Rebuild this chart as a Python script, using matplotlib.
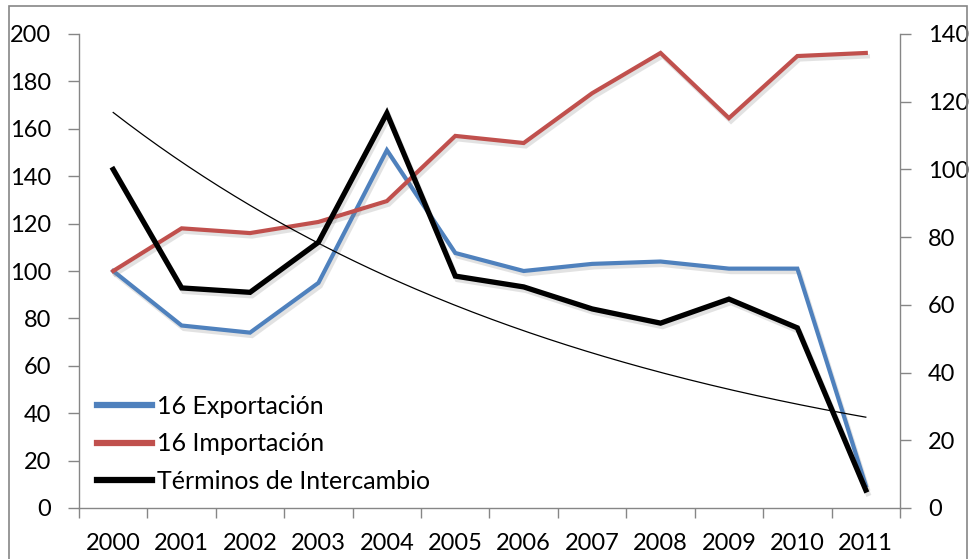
import numpy as np
import matplotlib
matplotlib.use("Agg")
import matplotlib.pyplot as plt
import matplotlib.patheffects as pe
from matplotlib.patches import Rectangle

years = ["2000", "2001", "2002", "2003", "2004", "2005", "2006", "2007", "2008", "2009", "2010", "2011"]
exportacion = [100, 77, 74, 95, 151, 107.6, 100, 103, 104, 101, 101, 9.5]
importacion = [100, 118, 116, 120.7, 129.5, 157, 154, 175, 192, 164.5, 190.7, 192]
terminos = [100, 65, 63.7, 78.5, 116.6, 68.5, 65.3, 58.8, 54.6, 61.7, 53.2, 5.3]
left_ticks = [0, 20, 40, 60, 80, 100, 120, 140, 160, 180, 200]
right_ticks = [0, 20, 40, 60, 80, 100, 120, 140]

plt.rcParams['font.family'] = ['Lato', 'DejaVu Sans']
FS = 17
LFS = 18
W, H = 969, 559
fig = plt.figure(figsize=(W / 100, H / 100), dpi=100)
ax = fig.add_axes([79 / W, 1 - 508 / H, (900 - 79) / W, (508 - 34) / H])
ax2 = ax.twinx()

gray = '#868686'
x = np.arange(len(years))
shadow = [pe.SimpleLineShadow(offset=(1.5, -2.5), shadow_color='#7f7f7f', alpha=0.22), pe.Normal()]

l1, = ax.plot(x, exportacion, color='#4F81BD', lw=3.0, solid_joinstyle='miter',
              path_effects=shadow, label='16 Exportación')
l2, = ax.plot(x, importacion, color='#C0504D', lw=3.0, solid_joinstyle='miter',
              path_effects=shadow, label='16 Importación')
l3, = ax2.plot(x, terminos, color='black', lw=3.8, solid_joinstyle='miter',
               path_effects=shadow, label='Términos de Intercambio')

# exponential trendline of Términos de Intercambio
b, a = np.polyfit(x + 1, np.log(terminos), 1)
xt = np.linspace(0, len(years) - 1, 200)
ax2.plot(xt, np.exp(a + b * (xt + 1)), color='black', lw=0.9, zorder=1)

ax.set_xlim(-0.5, len(years) - 0.5)
ax.set_ylim(0, 200)
ax2.set_ylim(0, 140)
ax.set_yticks(left_ticks)
ax2.set_yticks(right_ticks)

ax.set_xticks(np.arange(-0.5, len(years), 1.0))
ax.set_xticklabels([])
ax.set_xticks(x, minor=True)
ax.set_xticklabels(years, minor=True)
ax.tick_params(axis='x', which='major', length=7, width=1, color=gray, direction='out')
ax.tick_params(axis='x', which='minor', length=0, pad=18, labelsize=FS)
ax.tick_params(axis='y', length=8, width=1, color=gray, direction='out', pad=12, labelsize=FS)
ax2.tick_params(axis='y', length=8, width=1, color=gray, direction='out', pad=12, labelsize=FS)

for s in ['top', 'right']:
    ax.spines[s].set_visible(False)
for s in ['top', 'left', 'bottom']:
    ax2.spines[s].set_visible(False)
for sp in [ax.spines['left'], ax.spines['bottom'], ax2.spines['right']]:
    sp.set_color(gray)
    sp.set_linewidth(1.0)

leg = ax2.legend(handles=[l1, l2, l3], loc='lower left', bbox_to_anchor=(0.022, 0.032),
                 frameon=False, fontsize=LFS, handlelength=2.2, handletextpad=0.2,
                 labelspacing=0.58, borderaxespad=0, borderpad=0)
for h in leg.legend_handles:
    h.set_linewidth(4.5)
    h.set_path_effects([])

fig.patches.append(Rectangle((9 / W, -0.1), (967 - 9) / W, 1.1 - 6 / H + 0.0,
                             transform=fig.transFigure, fill=False, edgecolor=gray,
                             linewidth=1.2, zorder=0))

fig.savefig('out.png', dpi=100)
